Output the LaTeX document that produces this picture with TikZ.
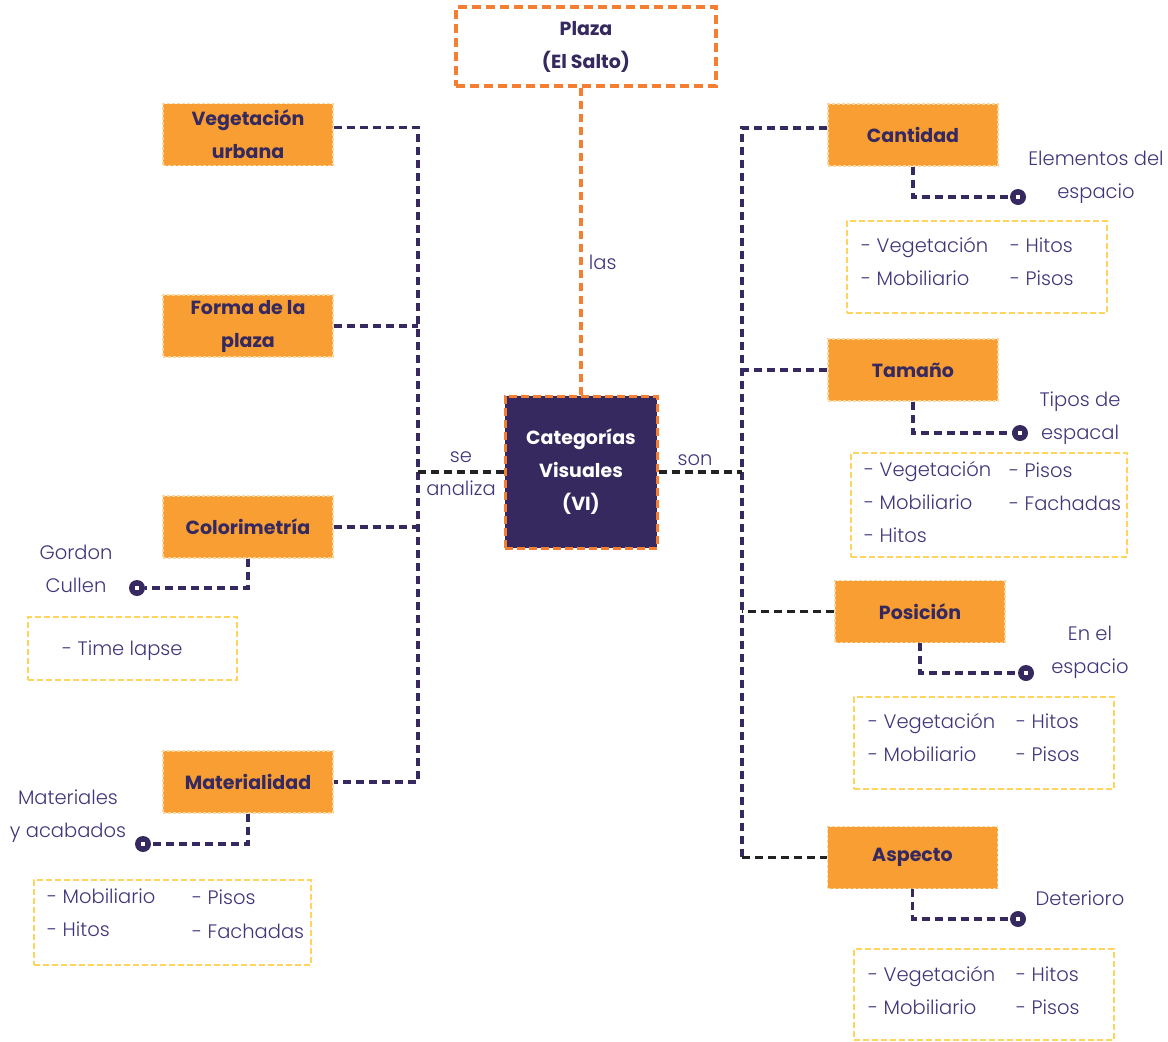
\documentclass[tikz,border=0pt]{standalone}
\usepackage{fontspec}
\setmainfont{Poppins}[UprightFont=* Light, BoldFont=* Bold]
\usetikzlibrary{calc}
\definecolor{ofill}{HTML}{F89E33}
\definecolor{oborder}{HTML}{FDD6A0}
\definecolor{oline}{HTML}{F47E32}
\definecolor{purp}{HTML}{35295F}
\definecolor{ptext}{HTML}{35295F}
\definecolor{ltext}{HTML}{40367A}
\definecolor{ybord}{HTML}{FFD45C}
\definecolor{blk}{HTML}{222222}
\tikzset{
  obox/.style={draw=oborder, line width=1.2pt, dash pattern=on 3pt off 2pt, fill=ofill,
    minimum width=170, minimum height=62, inner sep=0pt, text=ptext, align=center,
    font=\bfseries\fontsize{19}{33}\selectfont},
  lbox/.style={draw=ybord, line width=2.2pt, dash pattern=on 6pt off 3pt, inner sep=0pt},
  lbl/.style={text=ltext, align=center, inner sep=0pt, yshift=-3pt, font=\fontsize{19.5}{33}\selectfont},
  item/.style={text=ltext, anchor=mid west, inner sep=0pt, yshift=-4.5pt, font=\fontsize{19.5}{33}\selectfont},
  pline/.style={draw=purp, line width=3.8pt, dash pattern=on 8pt off 5pt},
  bline/.style={draw=blk, line width=3.8pt, dash pattern=on 8pt off 5pt},
  oconn/.style={draw=oline, line width=3.8pt, dash pattern=on 8pt off 5pt},
  dotn/.style={circle, fill=purp, minimum size=16, inner sep=0pt},
  dotsq/.style={rectangle, fill=white, minimum size=4.5, inner sep=0pt},
}
\begin{document}
\begin{tikzpicture}[x=1pt,y=-1pt]
\useasboundingbox (0,0) rectangle (1168,1042);
\fill[white] (0,0) rectangle (1168,1042);

% spines
\coordinate (sl) at (418,0);
\coordinate (sr) at (742,0);

% top and center
\node[draw=oline, line width=3.5pt, dash pattern=on 9pt off 5pt, fill=white,
  minimum width=260, minimum height=79, inner sep=0pt, text=ptext, align=center,
  font=\bfseries\fontsize{19}{33}\selectfont] (plaza) at (586,46.5) {Plaza\\(El Salto)};
\node[draw=oline, line width=3pt, dash pattern=on 8pt off 4pt, fill=purp,
  minimum width=152, minimum height=152, inner sep=0pt, text=white, align=center,
  font=\bfseries\fontsize{19}{33}\selectfont] (cat) at (581,472) {Categorías\\Visuales\\(VI)};

% left boxes
\node[obox] (veg) at (248,134.5) {Vegetación\\urbana};
\node[obox] (forma) at (248,326) {Forma de la\\plaza};
\node[obox] (color) at (248,527) {Colorimetría};
\node[obox] (mat) at (248,782) {Materialidad};

% right boxes
\node[obox] (cant) at (913,135) {Cantidad};
\node[obox] (tam) at (913,370) {Tamaño};
\node[obox] (pos) at (920,611.5) {Posición};
\node[obox] (asp) at (912.5,857.5) {Aspecto};

% connectors: top
\draw[oconn] (cat.north |- plaza.south) -- node[lbl, right=6pt, pos=0.56] (las) {las} (cat.north);

% left spine
\draw[pline] ([yshift=7pt]veg.east) -| (mat.east -| sl) -- (mat.east);
\draw[pline] (forma.east) -- (forma.east -| sl);
\draw[pline] (color.east) -- (color.east -| sl);
\draw[bline] (cat.west) -- (cat.west -| sl);
\node[lbl] (se) at (461,471) {se\\analiza};

% right spine
\draw[pline] ([yshift=7pt]cant.west) -| (asp.west -| sr);
\draw[bline] (asp.west -| sr) -- (asp.west);
\draw[pline] (tam.west) -- (tam.west -| sr);
\draw[bline] (pos.west) -- (pos.west -| sr);
\draw[bline] (cat.east) -- (cat.east -| sr);
\node[lbl] (son) at (695,457) {son};

% dots
\node[dotn] (d1) at (1018,197) {};
\node[dotn] (d2) at (1020,433) {};
\node[dotn] (d3) at (1026,673) {};
\node[dotn] (d4) at (1018,919) {};
\node[dotn] (d5) at (137,588) {};
\node[dotn] (d6) at (143,844) {};

\draw[pline] (cant.south) |- (d1.west);
\draw[pline] (tam.south) |- (d2.west);
\draw[pline] (pos.south) |- (d3.west);
\draw[pline] (asp.south) |- (d4.west);
\draw[pline] (color.south) |- (d5.east);
\draw[pline] (mat.south) |- (d6.east);

\foreach \d in {d1,d2,d3,d4,d5,d6} {\node[dotsq] at (\d) {};}

% side labels
\node[lbl] (l1) at (1096,174.5) {Elementos del\\espacio};
\node[lbl] (l2) at (1080,415.5) {Tipos de\\espacal};
\node[lbl] (l3) at (1090,649.5) {En el\\espacio};
\node[lbl] (l4) at (1080,895) {Deterioro};
\node[lbl] (l5) at (76,565.5) {Gordon\\Cullen};
\node[lbl] (l6) at (68,813.5) {Materiales\\y acabados};

% list boxes
\node[lbox, minimum width=260, minimum height=92] (b1) at (977,267) {};
\node[item] at (861,245) {- Vegetación};
\node[item] at (1010,245) {- Hitos};
\node[item] at (861,278) {- Mobiliario};
\node[item] at (1010,278) {- Pisos};

\node[lbox, minimum width=276, minimum height=104] (b2) at (989,505) {};
\node[item] at (864,469) {- Vegetación};
\node[item] at (1009,470) {- Pisos};
\node[item] at (864,502) {- Mobiliario};
\node[item] at (1009,503) {- Fachadas};
\node[item] at (864,535) {- Hitos};

\node[lbox, minimum width=260, minimum height=92] (b3) at (984,743) {};
\node[item] at (868,721) {- Vegetación};
\node[item] at (1016,721) {- Hitos};
\node[item] at (868,754) {- Mobiliario};
\node[item] at (1016,754) {- Pisos};

\node[lbox, minimum width=260, minimum height=91] (b4) at (984,994.5) {};
\node[item] at (868,974) {- Vegetación};
\node[item] at (1016,974) {- Hitos};
\node[item] at (868,1007) {- Mobiliario};
\node[item] at (1016,1007) {- Pisos};

\node[lbox, minimum width=209, minimum height=63] (b5) at (132.5,648.5) {};
\node[item] at (62,648) {- Time lapse};

\node[lbox, minimum width=277, minimum height=85] (b6) at (172.5,922.5) {};
\node[item] at (47,896) {- Mobiliario};
\node[item] at (192,897) {- Pisos};
\node[item] at (47,929) {- Hitos};
\node[item] at (192,931) {- Fachadas};
\end{tikzpicture}
\end{document}
